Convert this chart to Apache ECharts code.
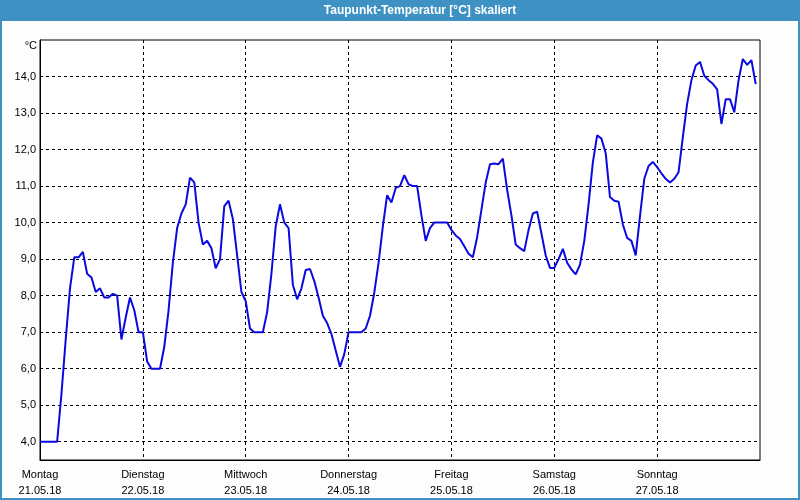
<!DOCTYPE html>
<html>
<head>
<meta charset="utf-8">
<script src="https://cdn.jsdelivr.net/npm/echarts@6/dist/echarts.min.js"></script>
<style>
html,body{margin:0;padding:0;background:#fcfdfc;}
#c{width:800px;height:500px;}
</style>
</head>
<body>
<div id="c"></div>
<script>
// Data: hourly dew point temperature, 21.05.18 00:00 .. 27.05.18 23:00
const dayNames = ['Montag','Dienstag','Mittwoch','Donnerstag','Freitag','Samstag','Sonntag'];
const dayDates = ['21.05.18','22.05.18','23.05.18','24.05.18','25.05.18','26.05.18','27.05.18'];
const yTicks = [4,5,6,7,8,9,10,11,12,13,14];
const dayTicks = [24,48,72,96,120,144];
const day1 = [4.0,4.0,4.0,4.0,4.0,5.3,6.8,8.2,9.05,9.05,9.2,8.6,8.5,8.1,8.2,7.95,7.95,8.05,8.0,6.8,7.4,7.95,7.6,7.0];
const day2 = [7.0,6.2,6.0,6.0,6.0,6.6,7.6,8.9,9.85,10.25,10.5,11.23,11.1,10.0,9.4,9.5,9.3,8.75,9.0,10.45,10.6,10.1,9.1,8.1];
const day3 = [7.85,7.1,7.0,7.0,7.0,7.55,8.6,9.9,10.5,10.0,9.85,8.3,7.9,8.2,8.7,8.73,8.4,7.95,7.45,7.25,6.95,6.5,6.05,6.4];
const day4 = [7.0,7.0,7.0,7.0,7.1,7.45,8.08,8.9,9.9,10.75,10.55,10.95,11.0,11.3,11.05,11.0,11.0,10.2,9.5,9.85,10.0,10.0,10.0,10.0];
const day5 = [9.8,9.65,9.55,9.35,9.15,9.05,9.6,10.35,11.1,11.6,11.62,11.6,11.75,10.9,10.2,9.4,9.3,9.22,9.8,10.25,10.3,9.7,9.1,8.76];
const day6 = [8.76,9.0,9.28,8.9,8.72,8.58,8.85,9.5,10.5,11.65,12.39,12.3,11.9,10.7,10.6,10.57,9.95,9.58,9.5,9.1,10.18,11.2,11.55,11.66];
const day7 = [11.52,11.35,11.2,11.1,11.2,11.38,12.35,13.25,13.9,14.3,14.4,14.02,13.9,13.8,13.65,12.7,13.38,13.38,13.02,13.9,14.48,14.32,14.45,13.79];

const values = [].concat(day1, day2, day3, day4, day5, day6, day7);
const seriesData = values.map((v, i) => [i, v]);

const chart = echarts.init(document.getElementById('c'), null, {renderer: 'canvas'});
const FONT = 'Liberation Sans, Arial, sans-serif';
const gridStyle = {color: '#000', type: [3, 3], width: 1};

chart.setOption({
  animation: false,
  backgroundColor: '#fcfdfc',
  grid: {left: 40, right: 40, top: 40, bottom: 40, show: true, borderColor: '#000', borderWidth: 1, backgroundColor: '#ffffff'},
  xAxis: {
    type: 'value', min: 0, max: 168, interval: 24,
    axisLine: {show: true, lineStyle: {color: '#000', width: 1}},
    axisTick: {show: false},
    splitLine: {show: true, showMinLine: false, showMaxLine: false, lineStyle: gridStyle},
    axisLabel: {
      color: '#000', fontFamily: FONT, fontSize: 11, margin: 7, lineHeight: 16,
      showMaxLabel: false,
      formatter: function (v) {
        const d = Math.round(v / 24);
        if (d >= 0 && d < dayNames.length) return dayNames[d] + '\n' + dayDates[d];
        return '';
      }
    }
  },
  yAxis: {
    type: 'value', min: 3.5, max: 15, interval: 0.5,
    axisLine: {show: true, lineStyle: {color: '#000', width: 1}},
    axisTick: {show: false},
    splitLine: {show: false},
    axisLabel: {
      color: '#000', fontFamily: FONT, fontSize: 11, margin: 4,
      formatter: function (v) {
        if (Math.abs(v - Math.round(v)) < 1e-6 && yTicks.indexOf(Math.round(v)) >= 0) {
          return v.toFixed(1).replace('.', ',');
        }
        return '';
      }
    }
  },
  series: [{
    type: 'line',
    data: seriesData,
    showSymbol: false,
    symbol: 'none',
    lineStyle: {color: '#0a0ae0', width: 2},
    z: 3,
    markLine: {
      silent: true,
      symbol: ['none', 'none'],
      label: {show: false},
      lineStyle: gridStyle,
      z: 1,
      data: yTicks.map(t => ({yAxis: t}))
    }
  }],
  graphic: [
    {type: 'rect', shape: {x: 0, y: 0, width: 800, height: 21}, style: {fill: '#3d92c3'}, z: 10},
    {type: 'rect', shape: {x: 1, y: 1, width: 798, height: 498}, style: {fill: 'none', stroke: '#3d92c3', lineWidth: 2}, z: 10},
    {type: 'text', x: 420, y: 11, style: {text: 'Taupunkt-Temperatur [°C] skaliert', fill: '#ffffff', font: 'bold 12px ' + FONT, textAlign: 'center', textVerticalAlign: 'middle'}, z: 11},
    {type: 'text', x: 37, y: 46, style: {text: '°C', fill: '#000', font: '11px ' + FONT, textAlign: 'right', textVerticalAlign: 'middle'}, z: 11}
  ]
});
</script>
</body>
</html>
